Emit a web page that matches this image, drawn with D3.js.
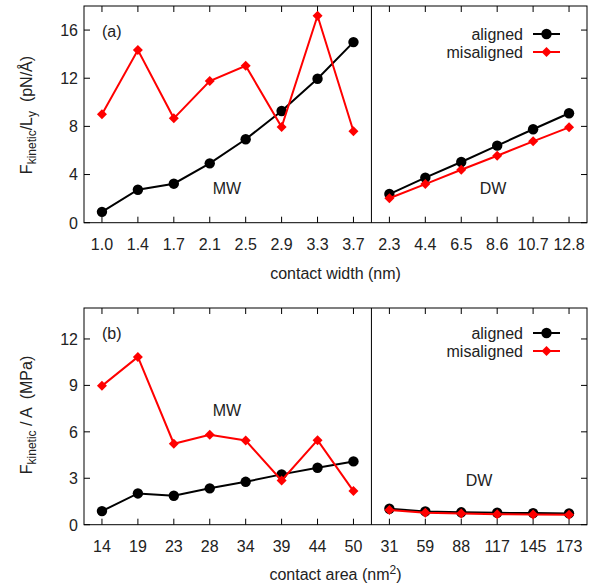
<!DOCTYPE html>
<html><head><meta charset="utf-8">
<script src="https://cdn.jsdelivr.net/npm/d3@7"></script>
<style>body{margin:0;background:#fff}svg text{font-family:"Liberation Sans",Arial,sans-serif;}</style>
</head><body><svg id="c" width="594" height="587"></svg>
<script>
// ---- data ----
const widthLabels = ["1.0","1.4","1.7","2.1","2.5","2.9","3.3","3.7","2.3","4.4","6.5","8.6","10.7","12.8"];
const areaLabels = ["14","19","23","28","34","39","44","50","31","59","88","117","145","173"];
const topAligned = [0.9,2.74,3.24,4.93,6.93,9.28,11.96,15.0, 2.38,3.74,5.04,6.40,7.76,9.09];
const topMisaligned = [9.0,14.34,8.67,11.77,13.04,7.95,17.19,7.59, 2.03,3.21,4.40,5.56,6.76,7.92];
const botAligned = [0.88,2.02,1.87,2.35,2.77,3.25,3.68,4.09, 1.03,0.86,0.80,0.77,0.75,0.73];
const botMisaligned = [8.97,10.84,5.23,5.81,5.44,2.86,5.46,2.17, 0.95,0.78,0.72,0.68,0.66,0.65];
const topYTicks = [0,4,8,12,16];
const botYTicks = [0,3,6,9,12];

const svg = d3.select("#c");
const FS = 16;

function panel(o){
  const g = svg.append("g");
  const x = d3.scaleLinear().domain([-0.5,13.5]).range([84,587]);
  const y = d3.scaleLinear().domain([0,o.ymax]).range([o.bottom,o.top]);
  const idx = d3.range(o.labels.length);
  const tl = 6;
  idx.forEach(i=>{
    g.append("line").attr("x1",x(i)).attr("x2",x(i)).attr("y1",o.bottom).attr("y2",o.bottom-tl).attr("stroke","#000");
    g.append("line").attr("x1",x(i)).attr("x2",x(i)).attr("y1",o.top).attr("y2",o.top+tl).attr("stroke","#000");
  });
  g.append("g").selectAll("text").data(o.labels).join("text")
    .attr("x",(d,i)=>x(i)).attr("y",o.bottom+27).attr("text-anchor","middle").attr("font-size",FS).attr("fill","#222").text(d=>d);
  o.yticks.forEach(t=>{
    g.append("line").attr("x1",84).attr("x2",84+tl).attr("y1",y(t)).attr("y2",y(t)).attr("stroke","#000");
    g.append("line").attr("x1",587).attr("x2",587-tl).attr("y1",y(t)).attr("y2",y(t)).attr("stroke","#000");
    g.append("text").attr("x",78).attr("y",y(t)+5.8).attr("text-anchor","end").attr("font-size",FS).attr("fill","#222").text(t);
  });
  g.append("rect").attr("x",84).attr("y",o.top).attr("width",503).attr("height",o.bottom-o.top).attr("fill","none").attr("stroke","#000").attr("stroke-width",1);
  g.append("line").attr("x1",x(7.5)).attr("x2",x(7.5)).attr("y1",o.top).attr("y2",o.bottom).attr("stroke","#000");

  const line = d3.line().x(d=>x(d[0])).y(d=>y(d[1]));
  const series = [
    {v:o.ali, color:"#000000", shape:"circle"},
    {v:o.mis, color:"#ff0000", shape:"diamond"}
  ];
  series.forEach(s=>{
    [[0,8],[8,14]].forEach(([a,b])=>{
      const pts = d3.range(a,b).map(i=>[i,s.v[i]]);
      g.append("path").attr("d",line(pts)).attr("fill","none").attr("stroke",s.color).attr("stroke-width",2);
    });
    s.v.forEach((v,i)=>marker(g,x(i),y(v),s));
  });
  const lg = [{t:"aligned",c:"#000000",shape:"circle",yy:o.leg},{t:"misaligned",c:"#ff0000",shape:"diamond",yy:o.leg+18}];
  lg.forEach(l=>{
    g.append("text").attr("x",523).attr("y",l.yy+5.8).attr("text-anchor","end").attr("font-size",FS).attr("fill","#222").text(l.t);
    g.append("line").attr("x1",533).attr("x2",560).attr("y1",l.yy).attr("y2",l.yy).attr("stroke",l.c).attr("stroke-width",2);
    marker(g,546.5,l.yy,{color:l.c,shape:l.shape});
  });
  g.append("text").attr("x",102).attr("y",o.top+31).attr("font-size",FS).attr("fill","#222").text(o.tag);
  g.append("text").attr("x",227).attr("y",o.mwy+5.8).attr("text-anchor","middle").attr("font-size",FS).attr("fill","#222").text("MW");
  g.append("text").attr("x",o.dwx).attr("y",o.dwy+5.8).attr("text-anchor","middle").attr("font-size",FS).attr("fill","#222").text("DW");
  return {x,y,g};
}
function marker(g,cx,cy,s){
  if(s.shape==="circle"){
    g.append("circle").attr("cx",cx).attr("cy",cy).attr("r",5.2).attr("fill",s.color);
  } else {
    const r=5;
    g.append("path").attr("d",`M${cx},${cy-r}L${cx+r},${cy}L${cx},${cy+r}L${cx-r},${cy}Z`).attr("fill",s.color);
  }
}

panel({labels:widthLabels, ali:topAligned, mis:topMisaligned, ymax:18, top:6, bottom:222.7, yticks:topYTicks, leg:34, tag:"(a)", mwy:188, dwx:493, dwy:188});
panel({labels:areaLabels, ali:botAligned, mis:botMisaligned, ymax:14, top:308, bottom:524.7, yticks:botYTicks, leg:333, tag:"(b)", mwy:410, dwx:479, dwy:480});

const t1 = svg.append("text").attr("x",335.5).attr("y",279).attr("text-anchor","middle").attr("font-size",FS).attr("fill","#222");
t1.text("contact width (nm)");
const t2 = svg.append("text").attr("x",335.5).attr("y",580).attr("text-anchor","middle").attr("font-size",FS).attr("fill","#222");
t2.append("tspan").text("contact area (nm");
t2.append("tspan").attr("dy",-6).attr("font-size",12).text("2");
t2.append("tspan").attr("dy",6).text(")");

const y1 = svg.append("text").attr("transform","translate(32,115) rotate(-90)").attr("text-anchor","middle").attr("font-size",FS).attr("fill","#222");
y1.append("tspan").text("F");
y1.append("tspan").attr("dy",4).attr("font-size",12).text("kinetic");
y1.append("tspan").attr("dy",-4).text("/L");
y1.append("tspan").attr("dy",4).attr("font-size",12).text("y");
y1.append("tspan").attr("dy",-4).text("  (pN/Å)").attr("style","white-space:pre");

const y2 = svg.append("text").attr("transform","translate(32,415) rotate(-90)").attr("text-anchor","middle").attr("font-size",FS).attr("fill","#222");
y2.append("tspan").text("F");
y2.append("tspan").attr("dy",4).attr("font-size",12).text("kinetic");
y2.append("tspan").attr("dy",-4).text(" / A  (MPa)").attr("style","white-space:pre");
</script></body></html>
